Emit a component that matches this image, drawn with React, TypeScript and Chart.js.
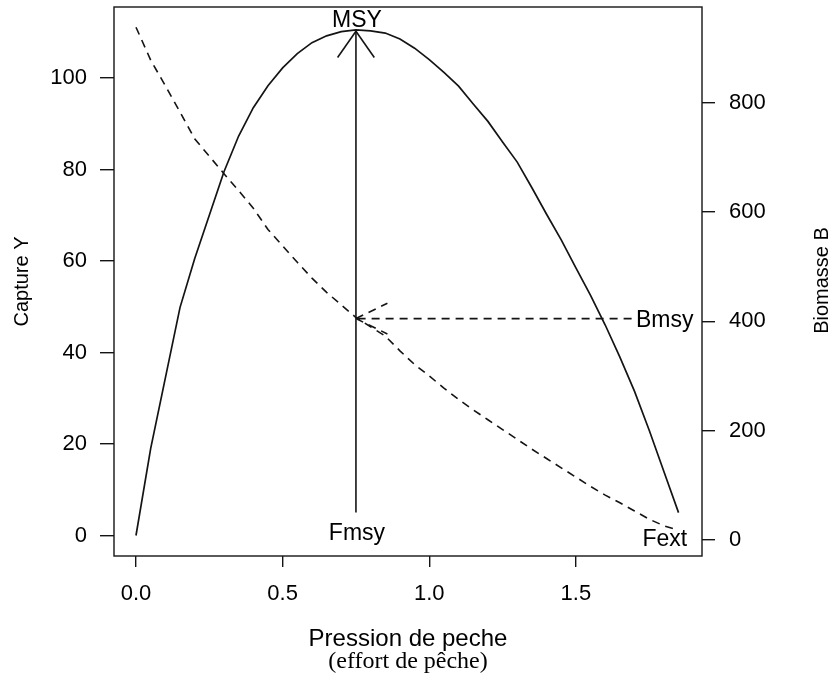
import React, { useEffect, useRef } from "react";
import { Chart, registerables } from "chart.js";

Chart.register(...registerables);

// Fishing pressure (effort)
const effort = [
  0, 0.05, 0.1, 0.15, 0.2, 0.25, 0.3, 0.35, 0.4, 0.45, 0.5, 0.55, 0.6, 0.65,
  0.7, 0.75, 0.8, 0.85, 0.9, 0.95, 1.0, 1.05, 1.1, 1.15, 1.2, 1.25, 1.3, 1.35,
  1.4, 1.45, 1.5, 1.55, 1.6, 1.65, 1.7, 1.75, 1.8, 1.85,
];
// Capture Y (left axis)
const capture = [
  0, 19, 34.4, 49.8, 60.5, 70, 79.5, 87.3, 93.5, 98.3, 102.2, 105.3, 107.7,
  109.2, 110.1, 110.5, 110.3, 109.8, 108.5, 106.5, 104, 101.2, 98.2, 94.3, 90.5,
  86, 81.6, 76, 70.2, 64.6, 58.5, 52.5, 46, 39, 31.5, 23, 14, 5,
];
// Biomasse B (right axis)
const biomass = [
  938, 878, 831, 783, 734, 702, 670, 639, 607, 568, 538, 508, 479, 453, 430,
  407, 390, 373, 346, 321, 300, 278, 257, 238, 220, 202, 184, 166, 149, 132,
  115, 98, 82, 68, 53, 38, 26, 18,
];

const xTicks = [0, 0.5, 1.0, 1.5];
const yTicks = [0, 20, 40, 60, 80, 100];
const bTicks = [0, 200, 400, 600, 800];

// Reference points
const FMSY = 0.75;
const MSY = 110.2;
const BMSY = 405;
const ARROW_BASE_Y = 5;
const BMSY_ARROW_START = 1.69;
const LABEL_F = 1.803;

const SANS = '"Liberation Sans", Arial, Helvetica, sans-serif';
const SERIF = '"Liberation Serif", "Times New Roman", serif';
const INK = "#141414";

function arrowHead(
  ctx: CanvasRenderingContext2D,
  tx: number,
  ty: number,
  ux: number,
  uy: number,
  len: number,
  ang: number
) {
  for (const s of [1, -1]) {
    const c = Math.cos(s * ang);
    const sn = Math.sin(s * ang);
    const rx = ux * c - uy * sn;
    const ry = ux * sn + uy * c;
    ctx.beginPath();
    ctx.moveTo(tx, ty);
    ctx.lineTo(tx - rx * len, ty - ry * len);
    ctx.stroke();
  }
}

const annotPlugin = {
  id: "annot",
  afterDatasetsDraw(chart: any) {
    const { ctx, chartArea: a, scales } = chart;
    const x = scales.x;
    const y = scales.y;
    const yB = scales.yB;
    ctx.save();
    // plot box
    ctx.strokeStyle = INK;
    ctx.lineWidth = 1.4;
    ctx.setLineDash([]);
    ctx.strokeRect(a.left, a.top, a.right - a.left, a.bottom - a.top);

    // vertical MSY arrow
    const fx = x.getPixelForValue(FMSY);
    const yb = y.getPixelForValue(ARROW_BASE_Y);
    const yt = y.getPixelForValue(MSY);
    ctx.lineWidth = 1.6;
    ctx.beginPath();
    ctx.moveTo(fx, yb);
    ctx.lineTo(fx, yt);
    ctx.stroke();
    arrowHead(ctx, fx, yt, 0, -1, 32, (35 * Math.PI) / 180);

    // horizontal dashed Bmsy arrow
    const by = yB.getPixelForValue(BMSY);
    const bx0 = x.getPixelForValue(BMSY_ARROW_START);
    ctx.setLineDash([8, 6]);
    ctx.beginPath();
    ctx.moveTo(bx0, by);
    ctx.lineTo(fx, by);
    ctx.stroke();
    arrowHead(ctx, fx, by, -1, 0, 35, (26 * Math.PI) / 180);
    ctx.setLineDash([]);

    // annotation texts
    ctx.fillStyle = "#000";
    ctx.textAlign = "center";
    ctx.textBaseline = "middle";
    ctx.font = `23px ${SANS}`;
    ctx.fillText("MSY", fx + 1, y.getPixelForValue(112.6));
    ctx.fillText("Fmsy", fx + 1, y.getPixelForValue(0.5));
    ctx.fillText("Bmsy", x.getPixelForValue(LABEL_F), yB.getPixelForValue(BMSY) + 2);
    ctx.fillText("Fext", x.getPixelForValue(LABEL_F), y.getPixelForValue(-1));

    // axis titles
    ctx.font = `20px ${SANS}`;
    ctx.save();
    ctx.translate(22, (a.top + a.bottom) / 2);
    ctx.rotate(-Math.PI / 2);
    ctx.fillText("Capture Y", 0, 0);
    ctx.restore();
    ctx.save();
    ctx.translate(822, (a.top + a.bottom) / 2 - 1);
    ctx.rotate(-Math.PI / 2);
    ctx.fillText("Biomasse B", 0, 0);
    ctx.restore();
    const cx = (a.left + a.right) / 2;
    ctx.font = `24px ${SANS}`;
    ctx.fillText("Pression de peche", cx, 639);
    ctx.font = `24px ${SERIF}`;
    ctx.fillText("(effort de pêche)", cx, 662);
    ctx.restore();
  },
};

export default function App() {
  const ref = useRef<HTMLCanvasElement | null>(null);

  useEffect(() => {
    if (!ref.current) return;
    const tickFont = { family: SANS, size: 22 };
    const chart = new Chart(ref.current, {
      type: "line",
      data: {
        datasets: [
          {
            label: "Capture Y",
            data: effort.map((f, i) => ({ x: f, y: capture[i] })),
            yAxisID: "y",
            borderColor: INK,
            borderWidth: 1.7,
            pointRadius: 0,
            tension: 0,
            fill: false,
          },
          {
            label: "Biomasse B",
            data: effort.map((f, i) => ({ x: f, y: biomass[i] })),
            yAxisID: "yB",
            borderColor: INK,
            borderWidth: 1.6,
            borderDash: [8, 6],
            pointRadius: 0,
            tension: 0,
            fill: false,
          },
        ],
      },
      options: {
        animation: false,
        responsive: true,
        maintainAspectRatio: false,
        layout: { padding: { top: 7, left: 0, right: 0, bottom: 0 } },
        plugins: {
          legend: { display: false },
          tooltip: { enabled: false },
          title: { display: false },
        },
        scales: {
          x: {
            type: "linear",
            min: -0.075,
            max: 1.93,
            afterBuildTicks: (s: any) => {
              s.ticks = xTicks.map((v) => ({ value: v }));
            },
            afterFit: (s: any) => {
              s.height = 121;
              s.paddingLeft = 0;
              s.paddingRight = 0;
            },
            grid: {
              display: true,
              drawOnChartArea: false,
              drawTicks: true,
              tickLength: 11,
              color: INK,
              lineWidth: 1.4,
            },
            border: { display: false },
            ticks: {
              color: "#000",
              font: tickFont,
              padding: 14,
              maxRotation: 0,
              autoSkip: false,
              callback: (v: any) => Number(v).toFixed(1),
            },
          },
          y: {
            type: "linear",
            position: "left",
            min: -4.48,
            max: 115.5,
            afterBuildTicks: (s: any) => {
              s.ticks = yTicks.map((v) => ({ value: v }));
            },
            afterFit: (s: any) => {
              s.width = 114;
              s.paddingTop = 0;
              s.paddingBottom = 0;
            },
            grid: {
              display: true,
              drawOnChartArea: false,
              drawTicks: true,
              tickLength: 14,
              color: INK,
              lineWidth: 1.4,
            },
            border: { display: false },
            ticks: {
              color: "#000",
              font: tickFont,
              padding: 13,
              autoSkip: false,
              callback: (v: any) => String(v),
            },
          },
          yB: {
            type: "linear",
            position: "right",
            min: -29.3,
            max: 975,
            afterBuildTicks: (s: any) => {
              s.ticks = bTicks.map((v) => ({ value: v }));
            },
            afterFit: (s: any) => {
              s.width = 132;
              s.paddingTop = 0;
              s.paddingBottom = 0;
            },
            grid: {
              display: true,
              drawOnChartArea: false,
              drawTicks: true,
              tickLength: 13,
              color: INK,
              lineWidth: 1.4,
            },
            border: { display: false },
            ticks: {
              color: "#000",
              font: tickFont,
              padding: 14,
              autoSkip: false,
              callback: (v: any) => String(v),
            },
          },
        },
      },
      plugins: [annotPlugin],
    } as any);
    return () => chart.destroy();
  }, []);

  return (
    <div
      style={{
        position: "absolute",
        left: 0,
        top: 0,
        width: 834,
        height: 677,
        background: "#fff",
      }}
    >
      <canvas ref={ref} />
    </div>
  );
}
